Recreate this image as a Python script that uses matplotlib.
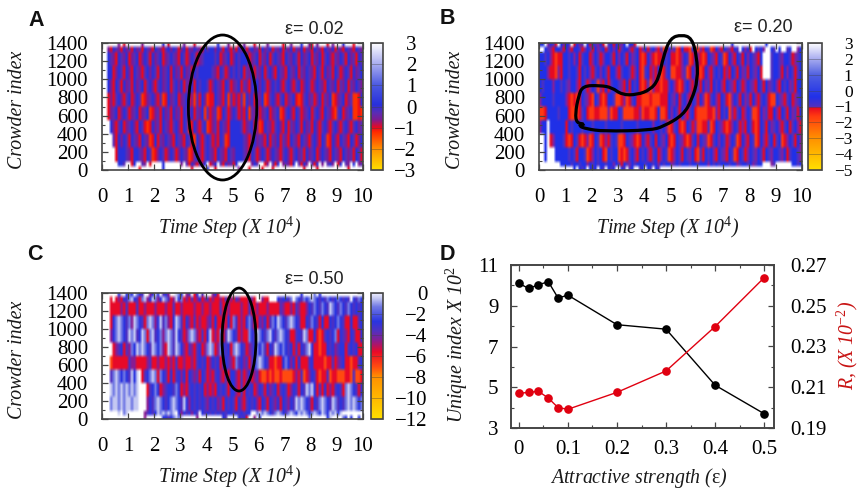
import numpy as np
import matplotlib
matplotlib.use("Agg")
import matplotlib.pyplot as plt
from matplotlib.cm import ScalarMappable
from matplotlib.colors import LinearSegmentedColormap, Normalize
from matplotlib.patches import Ellipse, PathPatch
from matplotlib.path import Path
from matplotlib.ticker import MultipleLocator

W, H = 859, 491
SERIF = "Liberation Serif"
plt.rcParams.update({
    "font.family": SERIF, "mathtext.fontset": "custom",
    "mathtext.rm": "Liberation Serif", "mathtext.it": "Liberation Serif:italic",
    "mathtext.default": "it",
})

# Crowder-index bin edges (bottom to top); rows below are listed top to bottom
crowder_edges = [0, 40, 90, 250, 400, 550, 700, 850, 1000, 1150, 1300, 1360, 1400]

rows_a = [
    "......p.r. .....p.... ...b.r.... .p...r.... ....b...p. ..r.p...r. ...p.....r ..p...b..p r.p...r.p. ..b...r...",
    "..prbmprbp mrbpmrbmpr bmprmbpbmr pbrmpbmprb mbbpbmrbpr mrbpbrmbpm rbpmbrmpbr mpbrmpbrmp rbmprbmpbr mprbmprbmp",
    "..bmprbmpb rpmbrpbmrb pmbrpmbmpr bmrpbmrpmb bbbmbrpmbr pbmbbbrpmb rmpbrmbmpr bmpbmrbpmb rmpbrmbprm pbmrbpmrbm",
    "..bbrpbmrb prbmprmbpb mrbpmbrbpm rbpmrbmbbb bbmprbmrpb mbmbrmpbrm pbrmbprbmp rbmpbrmpbm prbmrbpmrb mrpbmrbpmb",
    "..bprbmrbp mrbpmbrmbp rmbpmbrmbp brmpbrbmbb mrpbmprbmr pmbrmprbmb pbmrpbmbpr mbprmbrpbm rpbmprbmpb rmpbrmpbmp",
    "..rprmbprm brpbmorpmb prmorbpmbr pmbrpomrbp orrbmprbom rprmobpbrm pbormbprmb rpmbrormbp mrpbrmpbor pmbrpmoorb",
    "..rpmbrpbm rpmbrpmbor pmrbpmrbpm rbmpbrmpbo mrpmorbmrp bmrprbompb rpmbrpmbor mbprbmrpmb rmbprbmpro mbrpmbooro",
    "...bprmbrp mbprbmrorb pmrbmprmbp rbmorbprmb orpmrbmprb bbbmrpmbrp orbmprmbpr brmpbmrbpm rbprmbprmb prmbprmbpm",
    "....mrbpbm rbmprbmpor brmpbmprbm prbmrobprm bmrprbmorb bbbbmprmbp mprbrmpbrm prbmprbmpr mbprbmorbp rbmprbmrpb",
    ".....rbbbm prbbmprbmo rpbmrpbmrp bmpormbprm bmprbmprbm pbbbmprbmr pbmrpbmprm bprmbpmrbp mbrpbmprbm prbmpmrbmr",
    "......bbm. .rb..mp.r. ...b...... p.mrbprmpb .rpb.mrbpm rb.....pbm ..rp.mrb.p mprb.mrbp. mrb.p.mbp. rb.mp.b.pm",
    ".......... ....r..... ...b...... ....r..... b..r...... ..p...r... .r...r.... .......r.. ..r....... ....r.....",
]
rows_b = [
    "bb.pbmr.bp bm.rbpm.br bmpbr.mbrb mpb.bbr... .......... .......... .......... ...b...... ......b... ..........",
    "..bmprbbmr bprbbmrpbm rbpmbrmbpb rmbbprmbrp brmbprmorb pmorbrrobr oprbmorbpr bmprbm.bpb r.bmbp..bm .b..mb..pb",
    "bbmbprorrb bmbpbrmbbr pbmrpbbmrb pbmrbpmbro rbprorrbmb rrorpbmorb prorbmprbm orbprbmrbp bmprb...mb bmpbbmrpmb",
    "bbbprroprb bmbbmrbmbp rmbpbmrbbp rmbbmrpbro mbrprbormb oorrpmorbp rorbprmbmb rprbmrbpmr bmpbr...mb bmrbpbmrmb",
    "bmbbbpbbmb mpbbprbmrp bmoprbrmbb mprbrbmbro rmoprrorrm bprormbprb mrbpmrbmbp rbmprbmrpb mprbmrbpmb prbmbpmrbb",
    "pbbbbmbbbb prororbmpr obmrorbbmo orpormbrro oorooorrrb mpbrmbprbm rbpormbprb mropbmrbpm rbprmbmroo bmprmbrpmb",
    "oorbbbbmbb brooormbro orroooporr bmoooorrpo rroorboorb pbmrbprmbr oooorroprb mboprmbrpb moorbpmrrb prbmrbpmrb",
    "pbb.bbbbbb rbmbbbmbbb mbbbbmbbbb bmbbbbbmbb bbbpbbmbpo rmbrorbmrp oorrmorbmp rorpbmrprb mrorbmrbpm bprmbrmbpr",
    "..b.rpbbbm rorbmrorpo rbmorprmbm oorbmprorb prmbrbmpbr orbmprormb rbmpormbpb mrpbmorbpr bmorbprmbr mborpbmrbp",
    "..b...bbbb bmbmrbbmor pbmbrobmbb orormbprbm bprmbrpbmo rpbmrbmpbr omrbmbprbm prbmorbmrp bmpbmrbmpb bmpbrmbbmp",
    "........bb bbmbbmbbpb mbmbbmbbpb mrbmpbmbbb mbbmbpbmbb pmbmbbbmbb mbbbpbmbmb bbmbbpmbbm bpmbb...pm ......bbmb",
    ".......... ...b.bmb.b mb.bm.bmb. .bm.mb..mb .bm.bm.... .......... .......... .......... .......... ..........",
]
rows_c = [
    "......bw.b lb.lbm..pb wb.mbp..wl b.pm.rb.m. ..pbr..... .......... .......... ......b... .l.b...... ..........",
    "...r.rprbm lwbmrlwpbw lpbwlmrpwb lrprmrpbrp mrprrprmrp rmprrrmpr. .prr...bmb bml.lbmlbl wlbmbmlbmb lbmbm.bmlb",
    "...rrrrprm rrrmrrprrr prrrprrmrr prrrrprrpr rprrrmrrpr rrrprrmrrp rrrprrrrmp rrprmprrpb mlbmlbmwlb mlbmlbmbmb",
    "...rblwlbm lpwlbmrlwl pbwmlprbwl mrbprmrprr pmrbrrprbr lmrprblmrr mpbrmlbwlb mlwlbmrrbm lbmrbrrbmb lbmrrbrrmb",
    "...pblwlbm wlwmbwlrlw mblplwlmwb mrplwlprmr bwrprlrmwl bmrprrlbmw lbmlwbmlwl bmrrmbmwlr rbrormbmbl rbmprbmrrb",
    "....rpmbrm plbwlwlbmw lblprwlmwl bprmprmbrp lwlrplbmbr lwlbmrpmbl blmrbmwlbl bmbrmrbmlw brrorrbmbp mbbrmbmbrr",
    "...orrrrrr mpprrrrpmr rprrprprmr rprrprmbmb rpbmbrmbmp rlmbpmrmbl wlbmrrorrb lbpbrbrrrm brrrrorrmr pmbrrorrmb",
    "...mlwlblb mwbw.rmblw lrlbmrbrmb pbrbmpmrbm rprmbprmrb bprmrpbrpm roororooro ooorprmorp bmrorrmorr ooorromoor",
    "...wlwlwlw lwlw...rmb lbrpmbbmlb rprmbmbmbr prprbmbmrb bprmrbmbrp bmrbpmbrmb mrpbmrbmwl wbrmrbrprm bmrlwlbmrb",
    "...lwwlwlw wlww...pbm lwlbmblwlb mwbpbmbmbm pbmbpmrbmb mrbprmbmbp rbmrbmpbrb mpbmwlwlbm rbmlwlbmwl mbmlwlwlbl",
    "......w.lw ......pmbm bwlwlwlw.b pbmbpbm.bm bmbmbmbmbb mbmbmbb..l wlwlbmlwlb mlwlbwlwlb lwlbwlbwlw bw........",
    ".......... ......p... ...bbmblwl w.....p... ......bm.. ..bmbr..p. b......... .........l ......bw.. ..lb.b..b.",
]
levels_a = {"o": -1.25, "r": -1.0, "p": -0.6, "m": -0.3, "b": 0.1, "l": 0.9}
levels_b = {"o": -1.6, "r": -1.1, "p": -1.03, "m": -0.99, "b": -0.4, "l": 1.0}
levels_c = {"w": -0.5, "l": -1.3, "b": -2.7, "m": -3.6, "p": -4.5, "r": -5.6, "o": -7.0}

ticks_a = [-3, -2, -1, 0, 1, 2, 3]
ticks_b = [-5, -4, -3, -2, -1, 0, 1, 2, 3]
ticks_c = [-12, -10, -8, -6, -4, -2, 0]

# Panel D
strength = [0, 0.02, 0.04, 0.06, 0.08, 0.1, 0.2, 0.3, 0.4, 0.5]
unique_index = [10.1, 9.85, 10.03, 10.18, 9.38, 9.52, 8.07, 7.85, 5.1, 3.7]
r_value = [0.2070, 0.2075, 0.2080, 0.2047, 0.2000, 0.1992, 0.2075, 0.2180, 0.2398, 0.2638]

blob_b = [(1.43, 516), (1.38, 626), (1.50, 811), (1.66, 928), (2.32, 932), (2.77, 910), (3.15, 829),
          (3.72, 829), (4.23, 884), (4.54, 995), (4.73, 1253), (4.99, 1455), (5.43, 1492), (5.81, 1455),
          (6.0, 1253), (6.04, 995), (5.81, 774), (5.49, 608), (4.73, 479), (4.23, 438), (2.45, 427),
          (1.81, 453), (1.5, 486), (1.75, 508)]

FRAME = "#454545"
fig = plt.figure(figsize=(W / 100, H / 100), dpi=100, facecolor="white")


def px_axes(l, t, r, b):
    return fig.add_axes([l / W, 1 - b / H, (r - l) / W, (b - t) / H])


def px_text(x, y, s, **kw):
    kw.setdefault("ha", "center")
    kw.setdefault("va", "center")
    fig.text(x / W, 1 - y / H, s, **kw)


def make_cmap(vmin, vmax, nodes):
    return LinearSegmentedColormap.from_list(
        "m", [((v - vmin) / (vmax - vmin), c) for v, c in nodes], N=1024)


cmap_a = make_cmap(-3, 3, [(-3, "#ffe000"), (-2, "#ff9000"), (-1.2, "#ff2a00"), (-1, "#e80a20"), (-0.6, "#7c1c94"),
                           (-0.3, "#5a2cb4"), (0.1, "#2830dc"), (1, "#4a58e0"), (2, "#a8acf0"), (3, "#ffffff")])
cmap_b = make_cmap(-5, 3, [(-5, "#ffe000"), (-3, "#ff9000"), (-1.6, "#ff3a10"), (-1.1, "#e80a20"), (-1.03, "#86209a"),
                           (-0.99, "#5030c0"), (-0.4, "#2030e8"), (1, "#5060e0"), (2, "#a8acf0"), (3, "#ffffff")])
cmap_c = make_cmap(-12, 0, [(-12, "#ffe000"), (-8, "#ff9000"), (-7, "#ff4a10"), (-5.6, "#e80a28"), (-4.5, "#8a1c90"),
                            (-3.6, "#5030c0"), (-2.7, "#2a34e0"), (-1.3, "#7078e4"), (-0.5, "#c4c8f2"), (0, "#f0f0ff")])


def style_box(ax):
    for s in ax.spines.values():
        s.set_color(FRAME)
        s.set_linewidth(1.2)


def soften(rgb, kernel, axis):
    k = np.array(kernel, float)
    k /= k.sum()
    pad = len(k) // 2
    widths = [(0, 0)] * 3
    widths[axis] = (pad, pad)
    padded = np.pad(rgb, widths, mode="edge")
    return np.apply_along_axis(lambda v: np.convolve(v, k, mode="valid"), axis, padded)


def heat(box, cbox, rows, levels, cmap, vmin, vmax, ticks, cb_pad, cb_size=15):
    ax = px_axes(*box)
    grid = np.array([[levels.get(ch, np.nan) for ch in row.replace(" ", "").ljust(100, ".")[:100]]
                     for row in rows])
    # repeat each bin to a 10-unit raster (top row first), then soften only along the rows' stacking
    heights = np.diff(crowder_edges)[::-1] // 10
    raster = np.repeat(grid, heights, axis=0)
    norm = Normalize(vmin, vmax)
    rgb = cmap(norm(np.ma.masked_invalid(raster)).filled(np.nan))[..., :3]
    rgb[np.isnan(raster)] = 1.0
    rgb = soften(rgb, [1, 2, 2, 2, 1], 0)
    ax.imshow(rgb, extent=(0, 10, 0, 1400), aspect="auto", interpolation="bilinear", zorder=1)
    ax.set_xlim(0, 10)
    ax.set_ylim(0, 1400)
    ax.set_xticks(range(11))
    ax.set_yticks(range(0, 1401, 200))
    ax.yaxis.set_minor_locator(MultipleLocator(100))
    ax.tick_params(axis="x", which="major", direction="in", length=4, width=0.9, color=FRAME,
                   top=True, labelsize=15, pad=13)
    ax.tick_params(axis="y", which="major", direction="in", length=4, width=0.9, color=FRAME,
                   right=True, labelsize=15, pad=10)
    ax.tick_params(axis="y", which="minor", direction="in", length=2.5, width=0.8, color=FRAME, right=True)
    ax.set_axisbelow(False)
    style_box(ax)

    cax = px_axes(*cbox)
    cb = fig.colorbar(ScalarMappable(norm=norm, cmap=cmap), cax=cax, ticks=ticks)
    cb.outline.set_edgecolor(FRAME)
    cb.outline.set_linewidth(1.2)
    cb.ax.tick_params(which="major", direction="in", length=(cbox[2] - cbox[0]) * 0.72, width=0.5,
                      color="#40404088", labelsize=cb_size, pad=cb_pad)
    cb.ax.minorticks_off()
    for t in cb.ax.get_yticklabels():
        t.set_horizontalalignment("right")
    return ax


ax_a = heat((102, 43, 363, 170), (371, 43, 383, 170), rows_a, levels_a, cmap_a, -3, 3, ticks_a, 24)
ax_b = heat((539, 43, 802, 170), (808, 43, 822, 170), rows_b, levels_b, cmap_b, -5, 3, ticks_b, 22, 12.5)
ax_c = heat((102, 293, 363, 419), (371, 293, 383, 419), rows_c, levels_c, cmap_c, -12, 0, ticks_c, 32)

ax_a.add_patch(Ellipse((4.62, 689), 2.62, 1598, fill=False, ec="black", lw=2.0, clip_on=False, zorder=5))
ax_c.add_patch(Ellipse((5.25, 883), 1.3, 1144, fill=False, ec="black", lw=2.0, clip_on=False, zorder=5))

# smooth closed outline on panel B
pts = np.array(blob_b, float)
mids = (pts + np.roll(pts, -1, axis=0)) / 2
verts, codes = [mids[-1]], [Path.MOVETO]
for p, m in zip(pts, mids):
    verts += [p, m]
    codes += [Path.CURVE3, Path.CURVE3]
ax_b.add_patch(PathPatch(Path(verts, codes), fill=False, ec="black", lw=2.3, clip_on=False, zorder=5))

# Panel D
ax_d = px_axes(511, 265, 774, 428)
ax_d.plot(strength, unique_index, "-o", color="black", lw=1.0, ms=5.2)
ax_d.set_xlim(-0.016, 0.52)
ax_d.set_ylim(3, 11)
ax_d.set_xticks([0, 0.1, 0.2, 0.3, 0.4, 0.5])
ax_d.set_xticklabels(["0", "0.1", "0.2", "0.3", "0.4", "0.5"])
ax_d.set_yticks([3, 5, 7, 9, 11])
ax_d.xaxis.set_minor_locator(MultipleLocator(0.05))
ax_d.yaxis.set_minor_locator(MultipleLocator(1))
ax_d.tick_params(which="major", direction="in", length=4, width=0.9, color=FRAME, top=True, labelsize=15, pad=9)
ax_d.tick_params(which="minor", direction="in", length=2.5, width=0.8, color=FRAME, top=True)
style_box(ax_d)

ax_r = ax_d.twinx()
ax_r.plot(strength, r_value, "-o", color="#e00010", lw=1.0, ms=5.2)
ax_r.set_ylim(0.19, 0.27)
ax_r.set_yticks([0.19, 0.21, 0.23, 0.25, 0.27])
ax_r.set_yticklabels(["0.19", "0.21", "0.23", "0.25", "0.27"])
ax_r.yaxis.set_minor_locator(MultipleLocator(0.01))
ax_r.tick_params(which="major", direction="in", length=4, width=0.9, color=FRAME, labelsize=15, pad=12)
ax_r.tick_params(which="minor", direction="in", length=2.5, width=0.8, color=FRAME)
style_box(ax_r)

# Labels
lab = dict(fontsize=14.3, style="italic", color="#1a1a1a")
for x, y in [(18, 110), (456, 110), (18, 360)]:
    px_text(x, y, "Crowder index", rotation=90, **lab)
for x, y in [(230, 228), (668, 228), (230, 477)]:
    px_text(x, y, "Time Step (X 10$^{4}$)", **lab)
px_text(457, 345, "Unique index X 10$^{2}$", rotation=90, **lab)
px_text(639, 478, r"Attractive strength ($\mathrm{ε}$)", **lab)
px_text(847, 345, "R, (X 10$^{-2}$)", rotation=90, fontsize=14.3, style="italic", color="#c81414")

for x, y, s in [(36, 20, "A"), (447, 19, "B"), (35, 255, "C"), (447, 254, "D")]:
    px_text(x, y, s, fontsize=15.5, fontweight="bold", family="Liberation Sans", color="#111111")
for x, y, s in [(314, 29, "ε= 0.02"), (763, 27, "ε= 0.20"), (314, 280, "ε= 0.50")]:
    px_text(x, y, s, fontsize=13, family="Liberation Sans", color="#222222")

fig.savefig("out.png", dpi=100)
